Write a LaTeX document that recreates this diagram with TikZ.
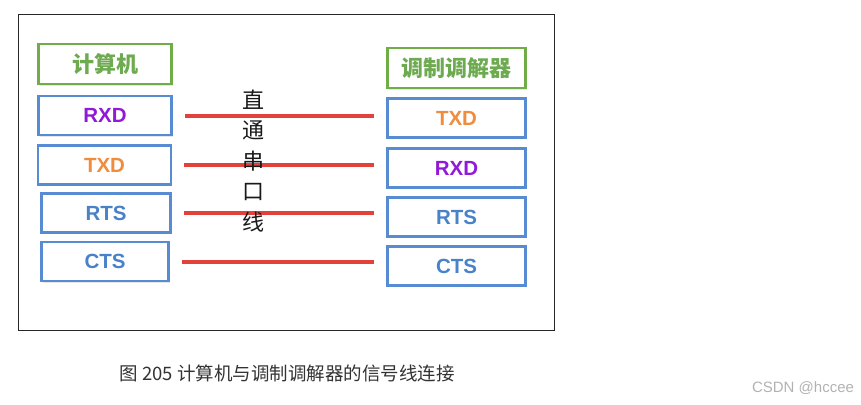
\documentclass[tikz,border=0pt]{standalone}
\usepackage{fontspec}
\setmainfont{Liberation Sans}
\newfontfamily\cjk{Noto Sans CJK SC}
\usetikzlibrary{shadows}

\definecolor{boxgreen}{RGB}{112,173,71}
\definecolor{txtgreen}{RGB}{110,170,80}
\definecolor{boxblue}{RGB}{88,140,210}
\definecolor{sigpurple}{RGB}{145,25,215}
\definecolor{sigorange}{RGB}{240,140,60}
\definecolor{sigblue}{RGB}{72,130,200}
\definecolor{sigred}{RGB}{226,66,58}

\begin{document}
\begin{tikzpicture}[x=1pt, y=-1pt,
    titlebox/.style={draw=boxgreen, line width=2.5pt, fill=white, minimum height=40pt,
        text=txtgreen, font=\cjk\bfseries\fontsize{22}{22}\selectfont,
        drop shadow={opacity=0.2, shadow xshift=1pt, shadow yshift=-1.5pt}},
    sigbox/.style={draw=boxblue, line width=2.5pt, fill=white, minimum height=39pt,
        font=\bfseries\fontsize{20.5}{20.5}\selectfont,
        drop shadow={opacity=0.2, shadow xshift=1pt, shadow yshift=-1.5pt}},
    sigline/.style={draw=sigred, line width=4pt, shorten <=12pt, shorten >=12pt}]

    % Define the canvas and the frame
    \useasboundingbox (0,0) rectangle (861,404);
    \draw[line width=1pt, black!85] (18,15) rectangle (554,330);

    % Left column: the computer
    \node[titlebox, minimum width=133pt] (pc) at (105,64) {计算机};
    \node[sigbox, minimum width=133pt, text=sigpurple] (lrxd) at (105,115.5) {RXD};
    \node[sigbox, minimum width=133pt, text=sigorange] (ltxd) at (104.5,165) {TXD};
    \node[sigbox, minimum width=129pt, text=sigblue] (lrts) at (106,213) {RTS};
    \node[sigbox, minimum width=127pt, text=sigblue] (lcts) at (105,261.5) {CTS};

    % Right column: the modem
    \node[titlebox, minimum width=138pt] (modem) at (456.5,68) {调制调解器};
    \node[sigbox, minimum width=138pt, text=sigorange] (rtxd) at (456.5,118) {TXD};
    \node[sigbox, minimum width=138pt, text=sigpurple] (rrxd) at (456.5,168) {RXD};
    \node[sigbox, minimum width=138pt, text=sigblue] (rrts) at (456.5,217) {RTS};
    \node[sigbox, minimum width=138pt, text=sigblue] (rcts) at (456.5,266) {CTS};

    % Draw the signal lines
    \draw[sigline] (lrxd.east) -- (lrxd.east -| rtxd.west);
    \draw[sigline] (ltxd.east) -- (ltxd.east -| rrxd.west);
    \draw[sigline] (lrts.east) -- (lrts.east -| rrts.west);
    \draw[sigline] (lcts.east) -- (lcts.east -| rcts.west);

    % Place the cable label
    \node[font=\cjk\fontsize{22}{30.5}\selectfont, align=center, text=black!90]
        (cable) at (253,161) {直\\通\\串\\口\\线};

    % Place the caption and the watermark
    \node[font=\cjk\fontsize{18.5}{19}\selectfont, text=black!80] (caption) at (287,373)
        {图 205 计算机与调制调解器的信号线连接};
    \node[font=\fontsize{15}{15}\selectfont, text=black!30] (mark) at (803,388) {CSDN @hccee};

\end{tikzpicture}
\end{document}
